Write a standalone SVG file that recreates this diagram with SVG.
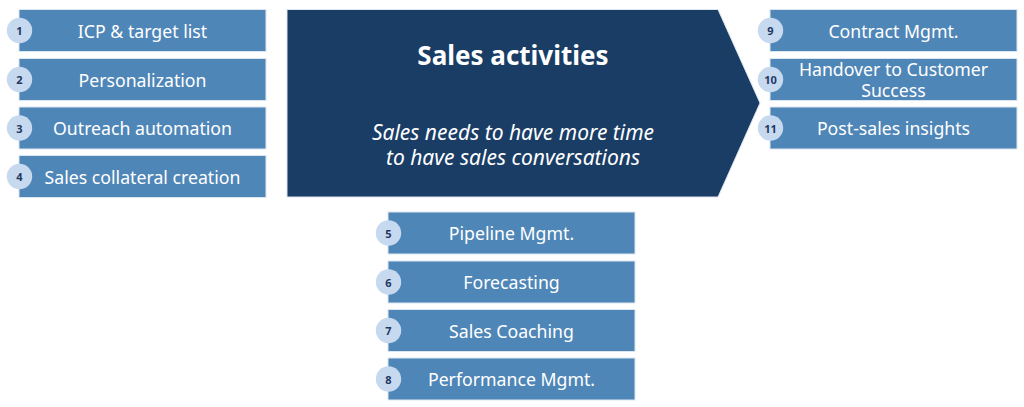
<svg xmlns="http://www.w3.org/2000/svg" width="1024" height="407" viewBox="0 0 1024 407">
<style>
.box{fill:#4F86B8;stroke:#DCE6F0;stroke-width:1}
.lbl{font-family:"Noto Sans","Open Sans",sans-serif;font-size:17.7px;fill:#FFFFFF;text-anchor:middle;dominant-baseline:central}
.num{fill:#C6D9EF}
.nt{font-family:"Noto Sans","Open Sans",sans-serif;font-size:11px;font-weight:bold;fill:#1F3864;text-anchor:middle;dominant-baseline:central}
.sub{font-family:"Noto Sans","Open Sans",sans-serif;font-size:21px;font-style:italic;fill:#FFFFFF;text-anchor:middle;dominant-baseline:central}
</style>
<rect width="1024" height="407" fill="#FFFFFF"/>
<g id="main">
<polygon points="287,9.5 718,9.5 760,103 718,197 287,197" fill="#1A3D66" stroke="#DCE6F0" stroke-width="1"/>
<text x="513" y="55" font-family="Noto Sans, Open Sans, sans-serif" font-size="26" font-weight="bold" fill="#FFFFFF" text-anchor="middle" dominant-baseline="central">Sales activities</text>
<text class="sub" x="513" y="132">Sales needs to have more time</text>
<text class="sub" x="513" y="157">to have sales conversations</text>
</g>
<g id="n1"><rect class="box" x="19" y="9.5" width="247" height="42"/><circle class="num" cx="19.5" cy="30.5" r="12.7"/><text class="nt" x="19.5" y="30.5">1</text><text class="lbl" x="142.5" y="30.5">ICP &amp; target list</text></g>
<g id="n2"><rect class="box" x="19" y="58.5" width="247" height="42"/><circle class="num" cx="19.5" cy="79.5" r="12.7"/><text class="nt" x="19.5" y="79.5">2</text><text class="lbl" x="142.5" y="79.5">Personalization</text></g>
<g id="n3"><rect class="box" x="19" y="107" width="247" height="42"/><circle class="num" cx="19.5" cy="128" r="12.7"/><text class="nt" x="19.5" y="128">3</text><text class="lbl" x="142.5" y="128">Outreach automation</text></g>
<g id="n4"><rect class="box" x="19" y="155.5" width="247" height="42"/><circle class="num" cx="19.5" cy="176.5" r="12.7"/><text class="nt" x="19.5" y="176.5">4</text><text class="lbl" x="142.5" y="176.5">Sales collateral creation</text></g>
<g id="n5"><rect class="box" x="388" y="212" width="247" height="42"/><circle class="num" cx="388.5" cy="233" r="12.7"/><text class="nt" x="388.5" y="233">5</text><text class="lbl" x="511.5" y="233">Pipeline Mgmt.</text></g>
<g id="n6"><rect class="box" x="388" y="261" width="247" height="42"/><circle class="num" cx="388.5" cy="282" r="12.7"/><text class="nt" x="388.5" y="282">6</text><text class="lbl" x="511.5" y="282">Forecasting</text></g>
<g id="n7"><rect class="box" x="388" y="309.5" width="247" height="42"/><circle class="num" cx="388.5" cy="330.5" r="12.7"/><text class="nt" x="388.5" y="330.5">7</text><text class="lbl" x="511.5" y="330.5">Sales Coaching</text></g>
<g id="n8"><rect class="box" x="388" y="358" width="247" height="42"/><circle class="num" cx="388.5" cy="379" r="12.7"/><text class="nt" x="388.5" y="379">8</text><text class="lbl" x="511.5" y="379">Performance Mgmt.</text></g>
<g id="n9"><rect class="box" x="770" y="9.5" width="247" height="42"/><circle class="num" cx="770.5" cy="30.5" r="12.7"/><text class="nt" x="770.5" y="30.5">9</text><text class="lbl" x="893.5" y="30.5">Contract Mgmt.</text></g>
<g id="n10"><rect class="box" x="770" y="58.5" width="247" height="42"/><circle class="num" cx="770.5" cy="79.5" r="12.7"/><text class="nt" x="770.5" y="79.5">10</text><text class="lbl" x="893.5" y="68.5">Handover to Customer</text><text class="lbl" x="893.5" y="90">Success</text></g>
<g id="n11"><rect class="box" x="770" y="107" width="247" height="42"/><circle class="num" cx="770.5" cy="128" r="12.7"/><text class="nt" x="770.5" y="128">11</text><text class="lbl" x="893.5" y="128">Post-sales insights</text></g>
<g id="connectors"></g>
</svg>
